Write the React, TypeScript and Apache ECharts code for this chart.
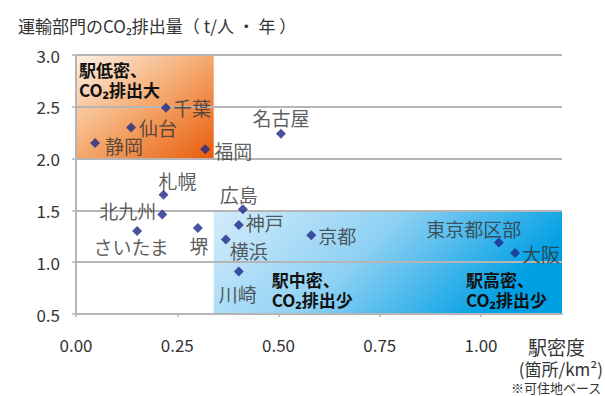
import React, { useEffect, useRef } from 'react';
import * as echarts from 'echarts';

const FONT = '"Noto Sans CJK JP", "Noto Sans", sans-serif';

// 都市別の駅密度（箇所/km²、可住地ベース）と運輸部門CO2排出量（t/人・年）
const cities = ['静岡', '仙台', '千葉', '福岡', '名古屋', '広島', '札幌', '北九州', 'さいたま', '堺', '神戸', '横浜', '川崎', '京都', '東京都区部', '大阪'];
const stationDensity = [0.047, 0.136, 0.222, 0.319, 0.506, 0.412, 0.216, 0.213, 0.151, 0.301, 0.402, 0.37, 0.402, 0.581, 1.044, 1.084];
const co2PerCapita = [2.15, 2.3, 2.49, 2.09, 2.24, 1.51, 1.65, 1.46, 1.3, 1.33, 1.36, 1.22, 0.91, 1.26, 1.19, 1.09];

const xTickValues = [0, 0.25, 0.5, 0.75, 1.0];

// 区分ゾーン [x開始, y開始, x終了, y終了]
const lowDensityZone = [0, 2.0, 0.34, 3.0];
const higherDensityZone = [0.34, 0.5, 1.2, 1.5];
const zoneLabels = ['駅低密、\nCO₂排出大', '駅中密、\nCO₂排出少', '駅高密、\nCO₂排出少'];

type LabelPlace = { position: string; distance: number; offset: [number, number] };
const labelPlacement: Record<string, LabelPlace> = {
  静岡: { position: 'right', distance: 5, offset: [0, 2] },
  仙台: { position: 'right', distance: 3, offset: [0, 0] },
  千葉: { position: 'right', distance: 2, offset: [0, 0] },
  福岡: { position: 'right', distance: 4, offset: [0, 1] },
  名古屋: { position: 'top', distance: 2, offset: [0, 0] },
  広島: { position: 'top', distance: 0, offset: [-4, 0] },
  札幌: { position: 'top', distance: 0, offset: [14, 0] },
  北九州: { position: 'left', distance: 1, offset: [0, -4] },
  さいたま: { position: 'bottom', distance: 1, offset: [-6, 0] },
  堺: { position: 'bottom', distance: 3, offset: [1, 0] },
  神戸: { position: 'right', distance: 2, offset: [0, -2] },
  横浜: { position: 'right', distance: 0, offset: [-1, 11] },
  川崎: { position: 'bottom', distance: 7, offset: [-1, 0] },
  京都: { position: 'right', distance: 2, offset: [0, 0] },
  東京都区部: { position: 'top', distance: 0, offset: [-25, 0] },
  大阪: { position: 'right', distance: 2, offset: [0, 1] },
};

const GRID_GRAY = '#b5b5b5';
const TEXT = '#333';

function zoneText(text: string, x: number, y: number, verticalAlign: string) {
  return {
    type: 'text',
    style: {
      text,
      x,
      y,
      align: 'left',
      verticalAlign,
      fill: '#111',
      fontSize: 17,
      fontWeight: 'bold',
      fontFamily: FONT,
      lineHeight: 20,
    },
  };
}

export default function App() {
  const ref = useRef<HTMLDivElement>(null);

  useEffect(() => {
    if (!ref.current) return;
    const chart = echarts.init(ref.current, null, { renderer: 'svg' });

    const zoneFills = [
      new echarts.graphic.LinearGradient(0, 0, 1, 1, [
        { offset: 0, color: '#fdf1e5' },
        { offset: 0.5, color: '#f4a86d' },
        { offset: 1, color: '#e85b0b' },
      ]),
      new echarts.graphic.LinearGradient(0, 0, 1, 0.3, [
        { offset: 0, color: '#d4ecfb' },
        { offset: 0.5, color: '#8fd1f3' },
        { offset: 1, color: '#009fe4' },
      ]),
    ];

    const option = {
      animation: false,
      backgroundColor: '#fff',
      textStyle: { fontFamily: FONT },
      title: {
        text: '運輸部門のCO₂排出量（ t/人 ・ 年 ）',
        left: 13,
        top: 9,
        textStyle: {
          fontSize: 17,
          fontWeight: 'normal',
          color: TEXT,
          fontFamily: FONT,
          lineHeight: 22,
        },
      },
      grid: { left: 76, right: 43, top: 55, bottom: 82, containLabel: false, outerBoundsMode: 'none' },
      xAxis: {
        type: 'value',
        min: 0,
        max: 1.2,
        interval: 0.25,
        splitLine: { show: false },
        axisLine: { show: true, lineStyle: { color: GRID_GRAY, width: 2 } },
        axisTick: { show: true, length: 3, lineStyle: { color: GRID_GRAY, width: 1.5 }, customValues: xTickValues },
        axisLabel: {
          customValues: xTickValues,
          formatter: (v: number) => (v > 1.1 ? '' : v.toFixed(2)),
          margin: 22,
          fontSize: 17,
          color: TEXT,
          fontFamily: FONT,
        },
      },
      yAxis: {
        type: 'value',
        min: 0.5,
        max: 3.0,
        interval: 0.5,
        splitLine: { show: true, lineStyle: { color: GRID_GRAY, width: 2 } },
        axisLine: { show: true, lineStyle: { color: GRID_GRAY, width: 2 } },
        axisTick: { show: true, length: 4, lineStyle: { color: GRID_GRAY, width: 1.5 } },
        axisLabel: {
          formatter: (v: number) => v.toFixed(1),
          margin: 16,
          fontSize: 17,
          color: TEXT,
          fontFamily: FONT,
        },
      },
      series: [
        {
          type: 'custom',
          z: -1,
          silent: true,
          clip: false,
          data: [lowDensityZone, higherDensityZone],
          renderItem: (params: any, api: any) => {
            const i = params.dataIndex;
            const tl = api.coord([api.value(0), api.value(3)]);
            const br = api.coord([api.value(2), api.value(1)]);
            const children: any[] = [
              {
                type: 'rect',
                shape: { x: tl[0], y: tl[1], width: br[0] - tl[0], height: br[1] - tl[1] },
                style: { fill: zoneFills[i] },
              },
            ];
            if (i === 0) {
              children.push(zoneText(zoneLabels[0], tl[0] + 3, tl[1] + 4, 'top'));
            } else {
              children.push(zoneText(zoneLabels[1], tl[0] + 58, br[1] - 5, 'bottom'));
              children.push(zoneText(zoneLabels[2], br[0] - 96, br[1] - 5, 'bottom'));
            }
            return { type: 'group', children };
          },
        },
        {
          type: 'scatter',
          symbol: 'diamond',
          symbolSize: 10,
          itemStyle: { color: '#1e2888' },
          label: {
            show: true,
            formatter: '{b}',
            fontSize: 19,
            color: TEXT,
            fontFamily: FONT,
          },
          data: cities.map((name, i) => ({
            name,
            value: [stationDensity[i], co2PerCapita[i]],
            label: { ...labelPlacement[name] },
          })),
        },
      ],
      graphic: [
        {
          type: 'text',
          left: 528,
          top: 337,
          style: { text: '駅密度', fontSize: 19, fill: TEXT, fontFamily: FONT },
        },
        {
          type: 'text',
          right: 2,
          top: 360,
          style: { text: '(箇所/km²)', fontSize: 17, fill: TEXT, fontFamily: FONT },
        },
        {
          type: 'text',
          right: 3,
          top: 381,
          style: { text: '※可住地ベース', fontSize: 13, fill: TEXT, fontFamily: FONT },
        },
      ],
    };

    chart.setOption(option as any);
    return () => chart.dispose();
  }, []);

  return (
    <div
      ref={ref}
      style={{ position: 'absolute', left: 0, top: 0, width: 605, height: 396, background: '#fff' }}
    />
  );
}
